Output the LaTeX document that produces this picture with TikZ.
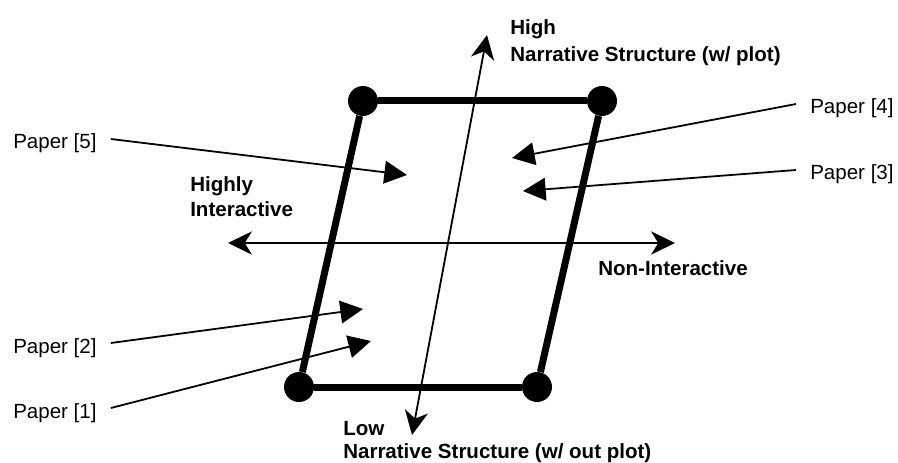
\documentclass[tikz,border=0pt]{standalone}
\usepackage{fontspec}
\setmainfont{Liberation Sans}
\usetikzlibrary{arrows.meta}
\begin{document}
\begin{tikzpicture}[x=0.75pt,y=-0.75pt,
  every node/.style={font=\fontsize{15.4pt}{18pt}\selectfont, inner sep=0pt},
  dot/.style={circle, fill=black, minimum size=22.5pt, inner sep=0pt},
  edge/.style={line width=5.25pt},
  axhead/.style={},
  axis/.style={line width=1.35pt, {Stealth[length=18pt,width=17.5pt,inset=5.5pt]}-{Stealth[length=18pt,width=17.5pt,inset=5.5pt]}},
  paperlbl/.style={text height=15pt, text depth=0pt, inner xsep=10.5pt},
  ptr/.style={line width=1.35pt, -{Triangle[length=17pt,width=17pt]}},
  axlbl/.style={font=\fontsize{15.4pt}{18pt}\selectfont\bfseries, anchor=base west}
]
\useasboundingbox (0,0) rectangle (898,463);

% parallelogram
\node[dot] (tl) at (363,101) {};
\node[dot] (tr) at (602,101) {};
\node[dot] (bl) at (299,387) {};
\node[dot] (br) at (537,387) {};
\draw[edge] (tl) -- (tr);
\draw[edge] (tr) -- (br);
\draw[edge] (br) -- (bl);
\draw[edge] (bl) -- (tl);

% axes
\coordinate (vtop) at (487,35);
\coordinate (vbot) at (412,435);
\coordinate (hl) at (228,243);
\coordinate (hr) at (675,243);
\draw[axis] (vbot) -- (vtop);
\draw[axis] (hl) -- (hr);

% axis labels
\node[axlbl] (high) at (510,35) {High};
\node[axlbl] (highns) at (510,62) {Narrative Structure (w/ plot)};
\node[axlbl] (highly) at (190,192) {Highly};
\node[axlbl] (inter) at (190,217) {Interactive};
\node[axlbl] (noninter) at (598,275) {Non-Interactive};
\node[axlbl] (low) at (343,435) {Low};
\node[axlbl] (lowns) at (343,458) {Narrative Structure (w/ out plot)};

% paper labels
\node[paperlbl, anchor=west] (p5) at (-1,139) {Paper [5]};
\node[paperlbl, anchor=west] (p2) at (-1,343) {Paper [2]};
\node[paperlbl, anchor=west] (p1) at (-1,408) {Paper [1]};
\node[paperlbl, anchor=west] (p4) at (796,104) {Paper [4]};
\node[paperlbl, anchor=west] (p3) at (796,170) {Paper [3]};

\coordinate (t5) at (407,175);
\coordinate (t4) at (512,158);
\coordinate (t3) at (523,191);
\coordinate (t2) at (363,309);
\coordinate (t1) at (371,341);

\draw[ptr] (p5.east) -- (t5);
\draw[ptr] (p4.west) -- (t4);
\draw[ptr] (p3.west) -- (t3);
\draw[ptr] (p2.east) -- (t2);
\draw[ptr] (p1.east) -- (t1);
\end{tikzpicture}
\end{document}
